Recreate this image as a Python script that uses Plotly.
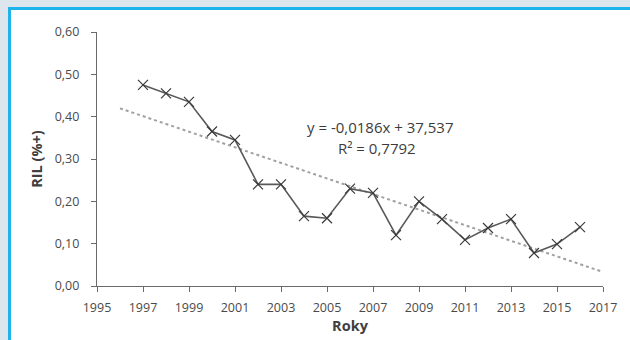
import numpy as np
import plotly.graph_objects as go

years = [1997, 1998, 1999, 2000, 2001, 2002, 2003, 2004, 2005, 2006,
         2007, 2008, 2009, 2010, 2011, 2012, 2013, 2014, 2015, 2016]
ril = [0.475, 0.455, 0.435, 0.365, 0.345, 0.240, 0.240, 0.165, 0.160, 0.230,
       0.220, 0.120, 0.200, 0.158, 0.109, 0.137, 0.158, 0.078, 0.099, 0.139]
x_ticks = [1995, 1997, 1999, 2001, 2003, 2005, 2007, 2009, 2011, 2013, 2015, 2017]
y_ticks = [0.0, 0.1, 0.2, 0.3, 0.4, 0.5, 0.6]
y_labels = ["0,00", "0,10", "0,20", "0,30", "0,40", "0,50", "0,60"]
trend_range = [1996, 2017]
eq_text = ["y = -0,0186x + 37,537", "R² = 0,7792"]

slope, intercept = np.polyfit(years, ril, 1)
tx = np.array(trend_range, dtype=float)
ty = slope * tx + intercept

W, H = 630, 340
ml, mr, mt, mb = 97, 27, 32, 54
pw, ph = W - ml - mr, H - mt - mb

def px(x):
    return (x - ml) / pw

def py(y):
    return (H - mb - y) / ph

fig = go.Figure()
fig.add_trace(go.Scatter(x=tx, y=ty, mode="lines",
                         line=dict(color="#a0a0a0", width=2, dash="dot"),
                         showlegend=False, hoverinfo="skip"))
fig.add_trace(go.Scatter(x=years, y=ril, mode="lines+markers",
                         line=dict(color="#585858", width=1.6),
                         marker=dict(symbol="x-thin", size=10,
                                     line=dict(color="#3a3a3a", width=1.2)),
                         showlegend=False))

fig.add_annotation(xref="paper", yref="paper", x=px(380), y=py(127),
                   text=eq_text[0], showarrow=False,
                   font=dict(family="Open Sans", size=15, color="#3c3c3c"))
fig.add_annotation(xref="paper", yref="paper", x=px(377), y=py(148),
                   text=eq_text[1], showarrow=False,
                   font=dict(family="Open Sans", size=15, color="#3c3c3c"))

# frame: grey page band with cyan border on top and left
fig.add_shape(type="rect", xref="paper", yref="paper",
              x0=px(9.5), x1=px(660), y0=py(8.5), y1=py(370),
              fillcolor="white", line=dict(color="#1fb3ec", width=3),
              layer="below")

fig.update_layout(
    width=W, height=H,
    margin=dict(l=ml, r=mr, t=mt, b=mb),
    paper_bgcolor="#dde6ed",
    plot_bgcolor="rgba(0,0,0,0)",
    font=dict(family="Open Sans", color="#404040"),
)
fig.update_xaxes(range=[1995, 2017], tickvals=x_ticks,
                 ticktext=[str(v) for v in x_ticks],
                 showgrid=False, zeroline=False, showline=True,
                 linecolor="#6a6a6a", linewidth=1.2,
                 ticks="outside", ticklen=5, tickcolor="#6a6a6a",
                 ticklabelstandoff=5,
                 tickfont=dict(size=12.5, color="#4a4a4a"),
                 title=dict(text="<b>Roky</b>", font=dict(size=14.5, color="#404040"),
                            standoff=2))
fig.update_yaxes(range=[0, 0.6], tickvals=y_ticks, ticktext=y_labels,
                 showgrid=False, zeroline=False, showline=True,
                 linecolor="#6a6a6a", linewidth=1.2,
                 ticks="outside", ticklen=5, tickcolor="#6a6a6a",
                 ticklabelstandoff=9,
                 tickfont=dict(size=12.5, color="#4a4a4a"),
                 title=dict(text="<b>RIL (%+)</b>", font=dict(size=14.5, color="#404040"),
                            standoff=8))

fig.write_html("out.html")
